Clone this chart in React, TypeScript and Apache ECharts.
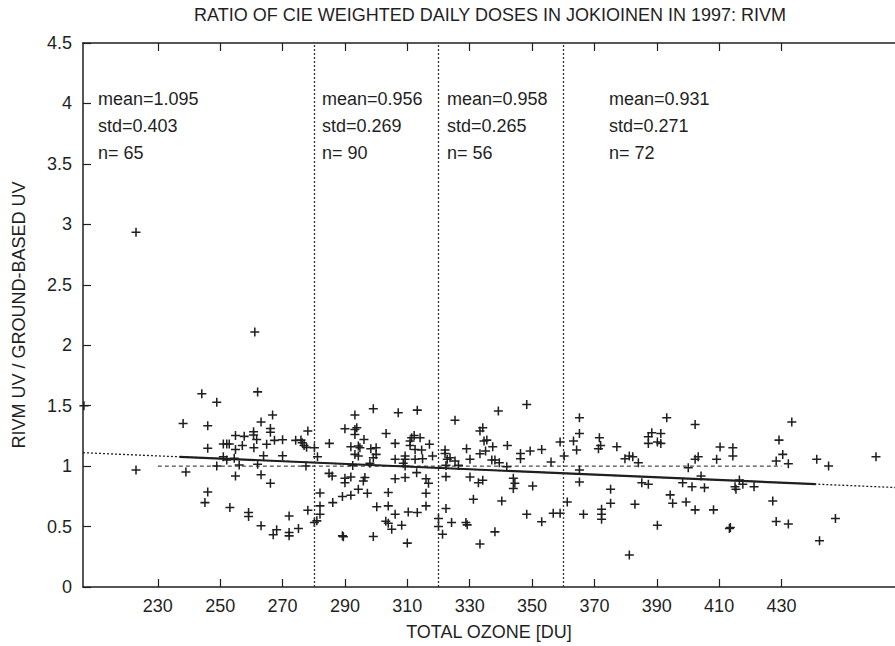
import React, { useEffect, useRef } from "react";
import * as echarts from "echarts";

const titleText = "RATIO OF CIE WEIGHTED DAILY DOSES IN JOKIOINEN IN 1997: RIVM";
const xAxisName = "TOTAL OZONE [DU]";
const yAxisName = "RIVM UV / GROUND-BASED UV";

const xTicks = [230, 250, 270, 290, 310, 330, 350, 370, 390, 410, 430];
const yTicks = [0, 0.5, 1, 1.5, 2, 2.5, 3, 3.5, 4, 4.5];
const xMin = 206;
const xMax = 466.4;

const boundaries = [280, 320, 360];
const statMean = ["1.095", "0.956", "0.958", "0.931"];
const statStd = ["0.403", "0.269", "0.265", "0.271"];
const statN = ["65", "90", "56", "72"];

// fitted regression line (dotted full, solid over data range)
const fitX = [206, 466.4];
const fitY = [1.111, 0.823];
const fitSolidX = [237, 441];
const fitSolidY = [1.077, 0.851];
// reference ratio = 1
const refX = [230, 430];
const refY = [1, 1];

const ozone = [
  206.3, 223.0, 261.1, 244.1, 262.0, 248.9, 266.8, 238.1, 246.0, 263.1,
  266.1, 266.1, 278.1, 260.7, 260.7, 254.9, 257.7, 261.7, 267.4, 270.0,
  274.2, 275.9, 276.3, 276.9, 277.7, 280.2, 285.0, 251.0, 252.1, 252.9,
  257.1, 260.8, 264.9, 246.0, 254.9, 251.0, 252.1, 254.5, 263.9, 270.0,
  281.2, 248.9, 256.1, 262.0, 277.5, 223.0, 239.0, 284.9, 285.9, 254.9,
  263.1, 266.1, 246.0, 245.1, 253.1, 282.0, 282.0, 282.0, 278.1, 280.2,
  281.0, 272.1, 259.1, 259.1, 263.1, 268.1, 267.0, 272.1, 272.1, 275.1,
  286.1, 289.2, 291.9, 294.3, 289.2, 289.5, 290.0, 290.0, 291.9, 290.0,
  293.2, 293.2, 293.8, 293.2, 291.9, 293.2, 292.5, 294.3, 294.3,
  299.1, 307.1, 313.2, 296.1, 294.8, 298.3, 300.0, 300.0, 299.1, 298.0,
  303.2, 306.1, 309.3, 309.3, 309.3, 308.7, 306.1, 310.9, 311.4, 312.2,
  310.9, 312.5, 312.5, 314.1, 314.6, 314.9, 317.1, 318.1, 296.4, 295.9,
  297.2, 300.2, 303.9, 303.9, 303.1, 303.9, 305.0, 306.1, 308.2, 299.1,
  310.0, 309.3, 306.1, 310.3, 313.2, 316.0, 316.8, 316.0, 316.0, 313.0,
  322.1, 322.1, 322.8, 322.4, 322.4, 323.7, 325.3, 326.4, 325.3, 329.0,
  330.1, 330.1, 331.2, 333.3, 334.2, 334.6, 335.5, 333.3, 335.1, 332.8,
  334.2, 337.4, 337.1, 338.1, 339.5, 342.1, 341.9, 340.3, 339.2, 346.3,
  346.3, 349.4, 353.1, 348.3, 344.0, 344.5, 344.0, 350.2, 356.1, 359.0,
  360.3, 363.3, 364.3, 365.2, 365.2, 365.2, 365.2, 361.3, 371.6, 372.0,
  371.3, 377.2, 375.2, 375.2, 372.3, 372.3, 372.3, 366.5, 320.0, 320.0,
  321.3, 322.4, 324.2, 328.8, 329.2, 333.3, 338.1, 348.3, 353.1, 356.8,
  359.0,
  379.8, 381.2, 382.3, 384.1, 381.2, 383.0, 385.2, 387.3, 387.3, 387.3,
  388.4, 390.2, 391.3, 391.3, 393.2, 390.2, 394.3, 395.1, 398.3, 399.4,
  400.1, 401.3, 402.3, 402.3, 402.3, 403.3, 404.2, 405.3, 408.2, 409.2,
  410.3, 414.4, 414.4, 413.3, 413.6, 415.4, 415.1, 416.5, 417.6, 421.2,
  427.2, 428.3, 428.3, 429.2, 430.4, 432.2, 432.2, 433.3, 441.3, 442.2,
  445.1, 447.3, 460.3,
];

const ratio = [
  1.50, 2.935, 2.110, 1.598, 1.614, 1.529, 1.422, 1.353, 1.334, 1.364,
  1.312, 1.281, 1.290, 1.284, 1.257, 1.254, 1.246, 1.221, 1.213, 1.218,
  1.213, 1.215, 1.193, 1.171, 1.155, 1.152, 1.188, 1.182, 1.182, 1.182,
  1.171, 1.152, 1.180, 1.147, 1.138, 1.078, 1.050, 1.064, 1.086, 1.086,
  1.078, 1.001, 1.009, 1.015, 1.001, 0.968, 0.951, 0.940, 0.918, 0.918,
  0.929, 0.858, 0.786, 0.698, 0.657, 0.778, 0.671, 0.602, 0.635, 0.533,
  0.547, 0.588, 0.616, 0.583, 0.506, 0.473, 0.432, 0.451, 0.423, 0.484,
  0.698, 0.748, 0.759, 0.808, 0.423, 0.415, 0.863, 0.899, 0.910, 1.309,
  1.422, 1.303, 1.317, 1.262, 1.161, 1.097, 1.006, 1.166, 1.083,
  1.474, 1.441, 1.463, 1.221, 1.152, 1.144, 1.152, 1.097, 1.070, 1.023,
  1.270, 1.188, 1.083, 1.056, 1.001, 1.023, 1.056, 1.207, 1.235, 1.254,
  1.171, 1.138, 1.056, 1.235, 1.133, 1.061, 1.180, 1.083, 0.905, 0.877,
  0.775, 0.663, 0.781, 0.671, 0.544, 0.528, 0.478, 0.602, 0.511, 0.418,
  0.363, 0.905, 0.896, 0.621, 0.616, 0.896, 0.858, 0.775, 0.671, 0.946,
  1.133, 1.105, 1.056, 1.006, 0.913, 1.070, 1.042, 1.006, 1.380, 1.144,
  1.056, 0.910, 0.726, 1.290, 1.317, 1.207, 1.215, 1.103, 1.125, 0.863,
  0.883, 1.160, 1.050, 1.050, 1.028, 1.171, 0.995, 0.712, 1.455, 1.105,
  1.061, 1.125, 1.138, 1.510, 0.899, 0.858, 0.814, 0.836, 1.034, 1.199,
  1.083, 1.207, 1.133, 1.270, 1.400, 0.968, 0.869, 0.704, 1.235, 1.171,
  1.144, 1.160, 0.808, 0.693, 0.643, 0.602, 0.561, 0.602, 0.566, 0.500,
  0.437, 0.649, 0.533, 0.533, 0.514, 0.355, 0.456, 0.602, 0.539, 0.610,
  0.610,
  1.061, 1.083, 1.078, 1.028, 0.264, 0.685, 0.863, 0.850, 1.243, 1.188,
  1.276, 1.199, 1.270, 1.188, 1.400, 0.511, 0.762, 0.693, 0.863, 0.704,
  0.987, 0.830, 0.638, 1.345, 1.056, 1.078, 0.918, 0.822, 0.638, 1.056,
  1.158, 1.152, 1.083, 0.484, 0.492, 0.808, 0.830, 0.885, 0.850, 0.830,
  0.712, 1.042, 0.542, 1.215, 1.097, 1.020, 0.522, 1.364, 1.056, 0.382,
  1.001, 0.566, 1.078,
];

const FONT = '"Liberation Sans", Arial, Helvetica, sans-serif';
const INK = "#1f1f1f";
const statX = [98, 322, 447, 609];
const statY = [99, 126, 153];

const PLUS = "path://M4.15,0H5.85V4.15H10V5.85H5.85V10H4.15V5.85H0V4.15H4.15Z";

export default function App() {
  const ref = useRef<HTMLDivElement>(null);

  useEffect(() => {
    if (!ref.current) return;
    const chart = echarts.init(ref.current, null, { renderer: "svg" });

    const pts = ozone.map((x, i) => [x, ratio[i]]);

    const graphics: any[] = [];
    statMean.forEach((m, i) => {
      const lines = ["mean=" + m, "std=" + statStd[i], "n= " + statN[i]];
      lines.forEach((t, j) => {
        graphics.push({
          type: "text",
          x: statX[i],
          y: statY[j],
          silent: true,
          style: {
            text: t,
            fill: INK,
            font: "18px " + FONT,
            verticalAlign: "middle",
            align: "left",
          },
        });
      });
    });

    const axisCommon = {
      type: "value" as const,
      min: xMin,
      max: xMax,
      splitLine: { show: false },
      axisLine: { show: true, onZero: false, lineStyle: { color: INK, width: 1.5 } },
    };

    chart.setOption({
      animation: false,
      backgroundColor: "#ffffff",
      title: {
        text: titleText,
        left: 194,
        top: 6,
        padding: 0,
        textStyle: { fontFamily: FONT, fontSize: 18, fontWeight: "normal", color: INK },
      },
      grid: { left: 83, right: 0, top: 43, bottom: 58, containLabel: false },
      xAxis: [
        {
          ...axisCommon,
          position: "bottom",
          name: xAxisName,
          nameLocation: "middle",
          nameGap: 36,
          nameTextStyle: { fontFamily: FONT, fontSize: 18, color: INK },
          axisTick: {
            show: true,
            inside: true,
            length: 8,
            customValues: xTicks,
            lineStyle: { color: INK, width: 1.2 },
          },
          axisLabel: {
            show: true,
            customValues: xTicks,
            margin: 10,
            fontFamily: FONT,
            fontSize: 18,
            color: INK,
          },
        },
        {
          ...axisCommon,
          position: "top",
          axisTick: {
            show: true,
            inside: true,
            length: 8,
            customValues: xTicks,
            lineStyle: { color: INK, width: 1.2 },
          },
          axisLabel: { show: false },
        },
      ],
      yAxis: {
        type: "value",
        min: 0,
        max: 4.5,
        interval: 0.5,
        splitLine: { show: false },
        name: yAxisName,
        nameLocation: "middle",
        nameGap: 55,
        nameTextStyle: { fontFamily: FONT, fontSize: 18, color: INK },
        axisLine: { show: true, lineStyle: { color: INK, width: 1.5 } },
        axisTick: { show: true, inside: true, length: 8, lineStyle: { color: INK, width: 1.2 } },
        axisLabel: {
          margin: 11,
          fontFamily: FONT,
          fontSize: 18,
          color: INK,
          formatter: (v: number) => String(v),
        },
      },
      graphic: graphics,
      series: [
        {
          type: "line",
          data: fitX.map((x, i) => [x, fitY[i]]),
          symbol: "none",
          lineStyle: { color: INK, width: 1.3, type: [2, 2] },
          silent: true,
          markLine: {
            silent: true,
            symbol: "none",
            label: { show: false },
            lineStyle: { color: "#333", width: 1.3, type: [2, 2] },
            data: boundaries.map((b) => ({ xAxis: b })),
          },
        },
        {
          type: "line",
          data: fitSolidX.map((x, i) => [x, fitSolidY[i]]),
          symbol: "none",
          lineStyle: { color: INK, width: 2.2, type: "solid" },
          silent: true,
        },
        {
          type: "line",
          data: refX.map((x, i) => [x, refY[i]]),
          symbol: "none",
          lineStyle: { color: INK, width: 1, type: [4, 3] },
          silent: true,
        },
        {
          type: "scatter",
          data: pts,
          symbol: PLUS,
          symbolSize: 9,
          clip: false,
          itemStyle: { color: INK, opacity: 1 },
          silent: true,
        },
      ],
    });

    return () => {
      chart.dispose();
    };
  }, []);

  return (
    <div
      ref={ref}
      style={{ position: "fixed", left: 0, top: 0, width: 895, height: 646, background: "#fff" }}
    />
  );
}
